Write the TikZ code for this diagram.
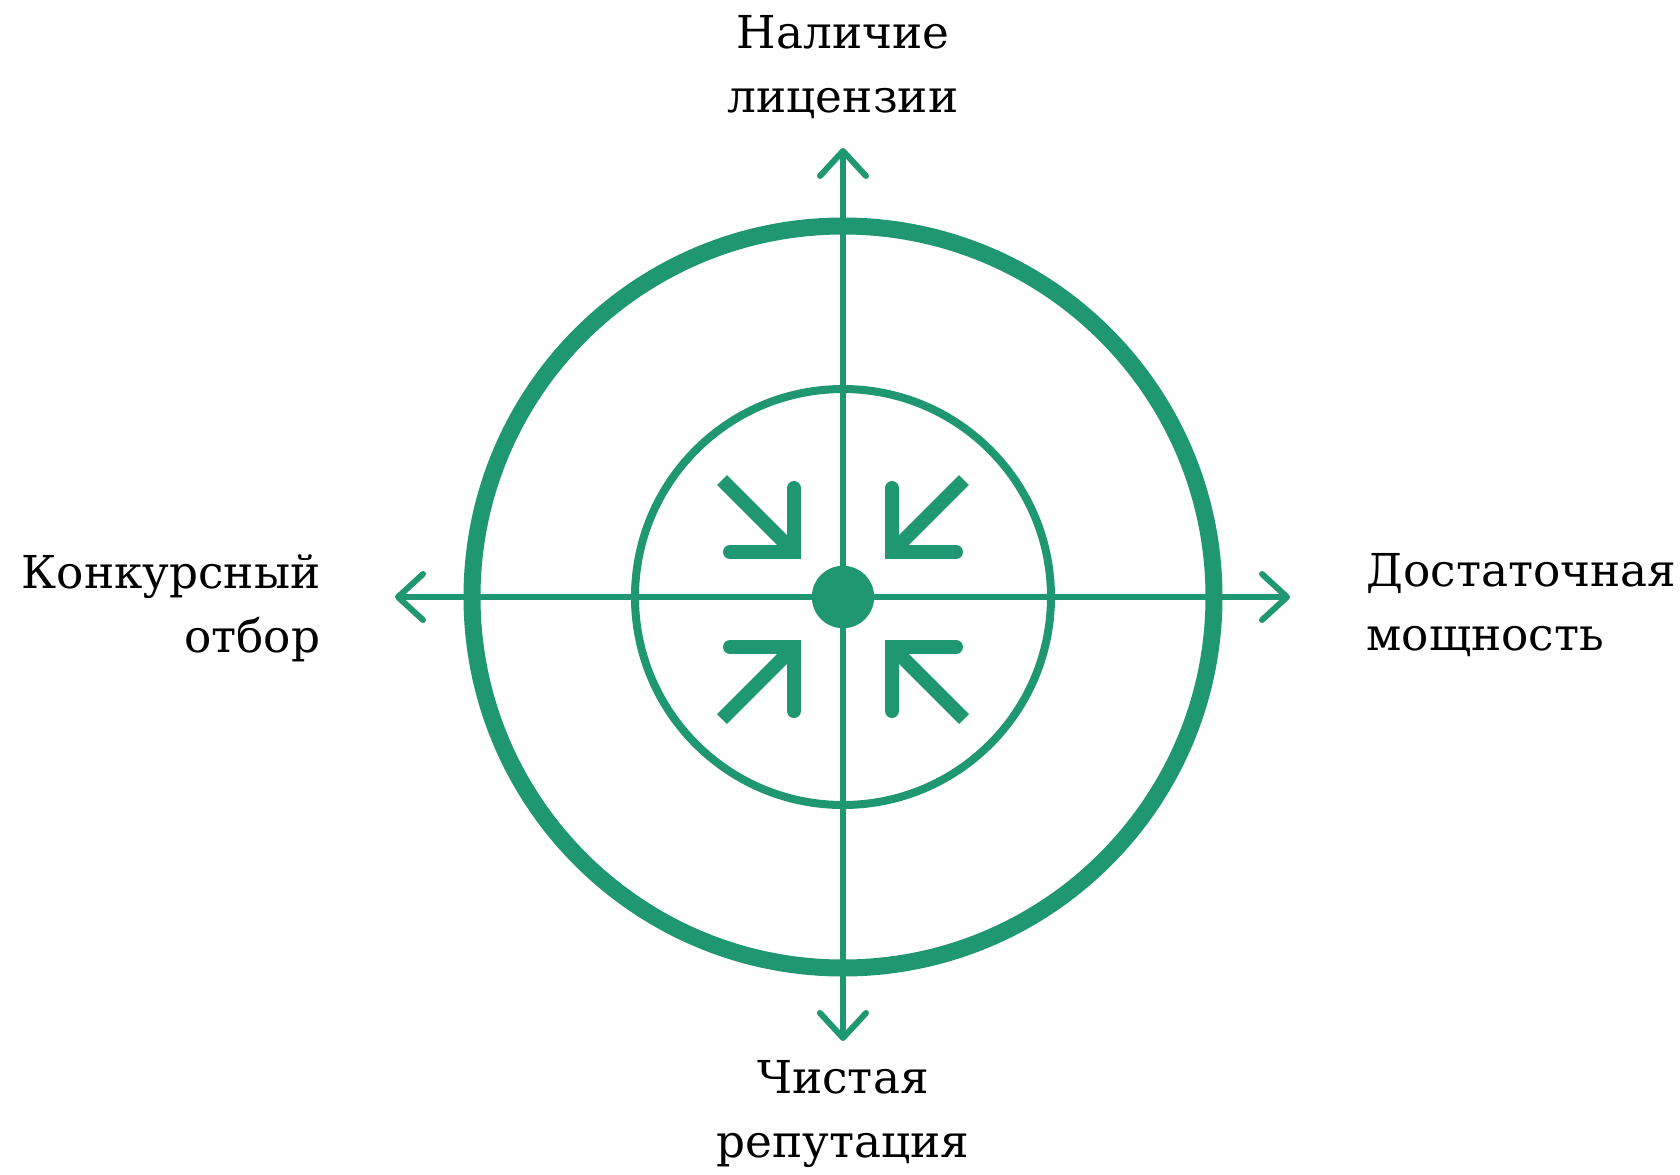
\documentclass[tikz,border=0pt]{standalone}
\usepackage{fontspec}
\setmainfont{DejaVu Serif}
\usepackage{xcolor}
\usetikzlibrary{arrows.meta,positioning,calc}

\definecolor{aimgreen}{RGB}{31,151,112}
\tikzset{
	axisline/.style={aimgreen,line width=0.6mm,
		{Straight Barb[length=2.5mm,width=4.6mm,round]}-{Straight Barb[length=2.5mm,width=4.6mm,round]}},
	inarrow/.style={aimgreen,line width=1.4mm},
	lbl/.style={font=\fontsize{12.9}{18.2}\selectfont,inner sep=0pt}
}

\begin{document}
\begin{tikzpicture}
	\useasboundingbox (-8.43,-5.77) rectangle (8.37,5.97);
	\coordinate (O) at (0,0);
	\coordinate (N) at (0,4.49);
	\coordinate (S) at (0,-4.44);
	\coordinate (W) at (-4.48,0);
	\coordinate (E) at (4.47,0);
	
	\draw[aimgreen,line width=1.7mm] (O) circle (3.71);
	\draw[aimgreen,line width=0.8mm] (O) circle (2.08);
	
	\draw[axisline] (W) -- (E);
	\draw[axisline] (S) -- (N);
	
	\filldraw[aimgreen] (O) circle (0.305);
	
	% arrows pointing to the centre
	\foreach \sx/\sy/\cy in {-1/1/0.45,1/1/0.45,-1/-1/0.50,1/-1/0.50}{
		\draw[inarrow,line cap=round,miter limit=10]
			(\sx*1.13,\sy*\cy) -- (\sx*0.49,\sy*\cy) -- (\sx*0.49,\sy*\cy+\sy*0.64);
		\draw[inarrow] (\sx*0.49,\sy*\cy) -- ++(\sx*0.72,\sy*0.72);
	}
	
	\node[lbl,align=center,anchor=base] (lic) at (0,4.85) {Наличие\\лицензии};
	\node[lbl,align=center,anchor=base] (rep) at (0,-5.60) {Чистая\\репутация};
	\node[lbl,align=right,anchor=base east] (sel) at (-5.22,-0.55) {Конкурсный\\отбор};
	\node[lbl,align=left,anchor=base west] (cap) at (5.23,-0.53) {Достаточная\\мощность};
\end{tikzpicture}
\end{document}
